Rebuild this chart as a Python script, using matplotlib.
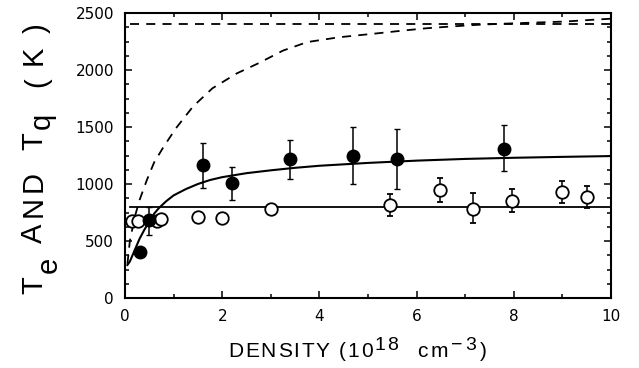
import numpy as np
import matplotlib
matplotlib.use("Agg")
import matplotlib.pyplot as plt
from matplotlib.ticker import MultipleLocator

plt.rcParams['font.family'] = ['Liberation Sans', 'DejaVu Sans']

# Te (filled circles) with error bars
te_x = [0.3, 0.5, 1.6, 2.2, 3.4, 4.7, 5.6, 7.8]
te_y = [400, 680, 1165, 1010, 1215, 1250, 1215, 1310]
te_lo = [0, 125, 200, 150, 170, 250, 260, 195]
te_hi = [0, 115, 195, 140, 170, 250, 265, 205]

# Tq (open circles)
tq_x = [0.15, 0.26, 0.65, 0.74, 1.5, 2.0, 3.0, 5.45, 6.48, 7.17, 7.97, 9.0, 9.5]
tq_y = [675, 675, 675, 693, 713, 699, 781, 815, 947, 784, 854, 926, 883]
tq_lo = [0, 0, 0, 0, 0, 0, 0, 95, 102, 122, 97, 96, 91]
tq_hi = [0, 0, 0, 0, 0, 0, 0, 100, 103, 134, 102, 103, 102]

# model curves
fit_x = [0.05, 0.1, 0.2, 0.3, 0.4, 0.5, 0.6, 0.7, 0.85, 1.0, 1.25, 1.5, 1.75, 2.0,
         2.5, 3.0, 3.5, 4.0, 5.0, 6.0, 7.0, 8.0, 9.0, 10.0]
fit_y = [290, 320, 420, 520, 600, 670, 740, 790, 850, 900, 955, 1000, 1035, 1060,
         1095, 1120, 1142, 1160, 1185, 1205, 1220, 1230, 1238, 1245]

dash_x = [0.05, 0.1, 0.2, 0.3, 0.45, 0.6, 0.8, 1.05, 1.4, 1.8, 2.3, 2.75, 3.25, 3.75,
          4.4, 5.2, 5.7, 6.2, 6.65, 7.2, 7.7, 9.05, 9.6, 10.0]
dash_y = [300, 500, 710, 860, 1035, 1190, 1330, 1490, 1680, 1840, 1970, 2060, 2170, 2245,
          2287, 2322, 2345, 2366, 2380, 2395, 2405, 2425, 2440, 2450]

tq_level = 800
dash_level = 2400

W, H = 639, 368
fig = plt.figure(figsize=(W / 100, H / 100), dpi=100)
ax = fig.add_axes([125 / W, 1 - 298 / H, 486 / W, 285 / H])

ax.plot([0.1, 10], [dash_level, dash_level], color='black', lw=1.3, ls=(0, (5, 4)))
ax.plot(dash_x, dash_y, color='black', lw=1.3, ls=(0, (5, 4)))
ax.plot([0.1, 10], [tq_level, tq_level], color='black', lw=1.3)
ax.plot(fit_x, fit_y, color='black', lw=1.5)

ax.errorbar(tq_x, tq_y, yerr=[tq_lo, tq_hi], fmt='o', mfc='white', mec='black', mew=1.3,
            ms=9, ecolor='black', elinewidth=1.1, capsize=2.5, zorder=3)
ax.errorbar(te_x, te_y, yerr=[te_lo, te_hi], fmt='o', color='black', ms=9,
            ecolor='black', elinewidth=1.1, capsize=2.5, zorder=4)

ax.set_xlim(0, 10)
ax.set_ylim(0, 2500)
ax.xaxis.set_major_locator(MultipleLocator(2))
ax.xaxis.set_minor_locator(MultipleLocator(1))
ax.yaxis.set_major_locator(MultipleLocator(500))
ax.yaxis.set_minor_locator(MultipleLocator(125))
ax.tick_params(which='both', direction='in', top=True, right=True, width=1.1)
ax.tick_params(which='major', length=5, labelsize=11, pad=8)
ax.tick_params(which='minor', length=3)
for lab in ax.get_xticklabels() + ax.get_yticklabels():
    lab.set_family('DejaVu Sans')
for s in ax.spines.values():
    s.set_linewidth(1.5)

# x label: letter-spaced pieces with raised exponents
fig.canvas.draw()
r = fig.canvas.get_renderer()
x0 = 228
pieces = [('DENSITY (10', 0, 15, 1.8), ('18', 7, 14, 1.8), ('  cm', 0, 15, 2.8),
          ('\u22123', 7, 14, 3.5), (')', 0, 15, 0)]
for txt, raise_px, fs, track in pieces:
    for ch in txt:
        t = fig.text(x0 / W, 1 - (357 - raise_px) / H, ch, fontsize=fs, ha='left', va='baseline')
        x0 += t.get_window_extent(r).width + track

# y label: spaced letters, rotated
ylab = [('T', 285, 42), ('e', 265, 57), ('A', 233, 42), ('N', 206, 42), ('D', 182, 42),
        ('T', 141, 42), ('q', 121, 50), ('(', 82, 45), ('K', 55, 42), (')', 28, 45)]
for ch, yc, xb in ylab:
    fig.text(xb / W, 1 - yc / H, ch, fontsize=21, rotation=90, rotation_mode='anchor',
             ha='center', va='baseline')

fig.savefig('out.png', dpi=100)
